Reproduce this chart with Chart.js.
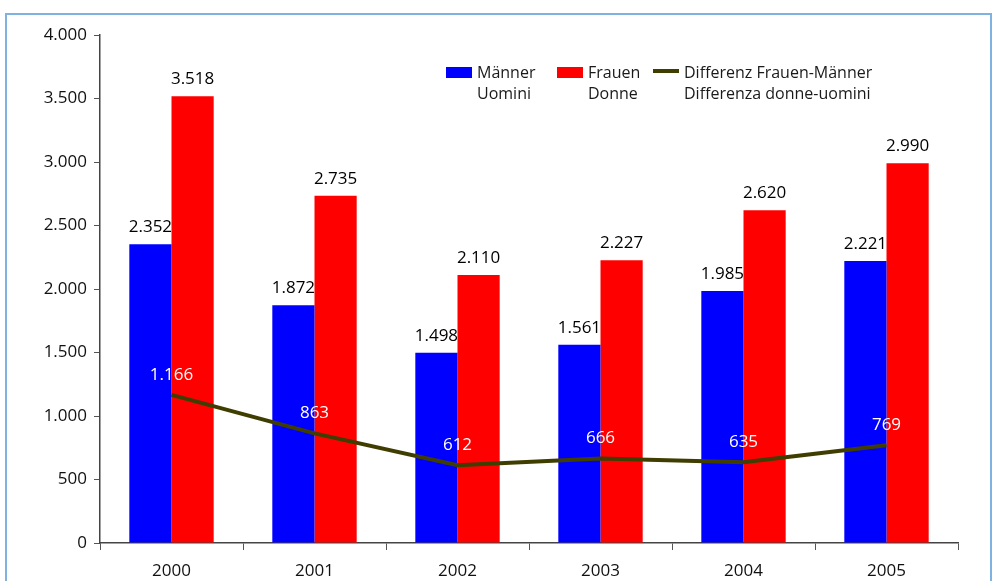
<!DOCTYPE html>
<html>
<head>
<meta charset="utf-8">
<script src="https://cdn.jsdelivr.net/npm/chart.js@4.4.0/dist/chart.umd.min.js"></script>
<style>
  html, body { margin: 0; padding: 0; background: #fff; overflow: hidden; }
  #wrap { position: relative; width: 995px; height: 581px; }
  #frame { position: absolute; left: 5px; top: 13px; width: 987px; height: 580px; border: 2px solid #7fb2e0; box-sizing: border-box; }
  canvas { position: absolute; left: 0; top: 0; }
</style>
</head>
<body>
<div id="wrap">
  <div id="frame"></div>
  <canvas id="myChart" width="995" height="581"></canvas>
</div>
<script>
var years = ['2000', '2001', '2002', '2003', '2004', '2005'];
var maenner = [2352, 1872, 1498, 1561, 1985, 2221];
var frauen = [3518, 2735, 2110, 2227, 2620, 2990];
var differenz = [1166, 863, 612, 666, 635, 769];

var fontName = '"Open Sans", "Noto Sans", sans-serif';

function fmt(v) {
    return v.toString().replace(/\B(?=(\d{3})+(?!\d))/g, '.');
}

// value labels above bars (black) and above line points (white)
var valueLabels = {
    id: 'valueLabels',
    afterDatasetsDraw: function(chart) {
        var ctx = chart.ctx;
        ctx.save();
        ctx.font = '17px ' + fontName;
        ctx.textAlign = 'center';
        chart.data.datasets.forEach(function(ds, i) {
            var meta = chart.getDatasetMeta(i);
            meta.data.forEach(function(el, j) {
                if (ds.type === 'line') {
                    ctx.fillStyle = '#ffffff';
                    ctx.textBaseline = 'middle';
                    ctx.fillText(fmt(ds.data[j]), el.x, el.y - 20);
                } else {
                    ctx.fillStyle = '#000000';
                    ctx.textBaseline = 'alphabetic';
                    ctx.fillText(fmt(ds.data[j]), el.x, el.y - 12);
                }
            });
        });
        ctx.restore();
    }
};

// legend inside the plot, two lines per entry
var innerLegend = {
    id: 'innerLegend',
    afterDraw: function(chart) {
        var ctx = chart.ctx;
        var items = [
            { x: 446, color: '#0000ff', type: 'box', lines: ['Männer', 'Uomini'] },
            { x: 557, color: '#ff0000', type: 'box', lines: ['Frauen', 'Donne'] },
            { x: 653, color: '#3f3d00', type: 'line', lines: ['Differenz Frauen-Männer', 'Differenza donne-uomini'] }
        ];
        ctx.save();
        ctx.font = '16px ' + fontName;
        ctx.textBaseline = 'alphabetic';
        ctx.textAlign = 'left';
        items.forEach(function(it) {
            if (it.type === 'box') {
                ctx.fillStyle = it.color;
                ctx.fillRect(it.x, 67, 26, 11);
            } else {
                ctx.strokeStyle = it.color;
                ctx.lineWidth = 4;
                ctx.beginPath();
                ctx.moveTo(it.x, 71);
                ctx.lineTo(it.x + 26, 71);
                ctx.stroke();
            }
            ctx.fillStyle = '#1a1a1a';
            ctx.fillText(it.lines[0], it.x + 31, 78);
            ctx.fillText(it.lines[1], it.x + 31, 99);
        });
        ctx.restore();
    }
};

var ctx = document.getElementById('myChart');
var myChart = new Chart(ctx, {
    data: {
        labels: years,
        datasets: [{
            type: 'line',
            label: 'Differenz Frauen-Männer',
            data: differenz,
            borderColor: '#3f3d00',
            borderWidth: 4,
            pointRadius: 0,
            tension: 0,
            order: 0
        }, {
            type: 'bar',
            label: 'Männer',
            data: maenner,
            backgroundColor: '#0000ff',
            categoryPercentage: 0.59,
            barPercentage: 1,
            order: 1
        }, {
            type: 'bar',
            label: 'Frauen',
            data: frauen,
            backgroundColor: '#ff0000',
            categoryPercentage: 0.59,
            barPercentage: 1,
            order: 1
        }]
    },
    options: {
        responsive: false,
        animation: false,
        layout: { padding: { top: 35, right: 37, left: 0, bottom: 0 } },
        plugins: {
            legend: { display: false },
            tooltip: { enabled: false }
        },
        scales: {
            x: {
                offset: true,
                grid: {
                    offset: true,
                    drawOnChartArea: false,
                    tickLength: 7,
                    color: '#555'
                },
                border: { color: '#444', width: 1.5 },
                ticks: {
                    color: '#111',
                    font: { family: fontName, size: 17 },
                    padding: 11
                },
                afterFit: function(scale) { scale.height = 38; }
            },
            y: {
                min: 0,
                max: 4000,
                grid: {
                    drawOnChartArea: false,
                    tickLength: 6,
                    color: '#555'
                },
                border: { color: '#444', width: 1.5 },
                ticks: {
                    stepSize: 500,
                    color: '#111',
                    font: { family: fontName, size: 17 },
                    padding: 7,
                    callback: function(v) { return fmt(v); }
                },
                afterFit: function(scale) { scale.width = 100; }
            }
        }
    },
    plugins: [valueLabels, innerLegend]
});
</script>
</body>
</html>
